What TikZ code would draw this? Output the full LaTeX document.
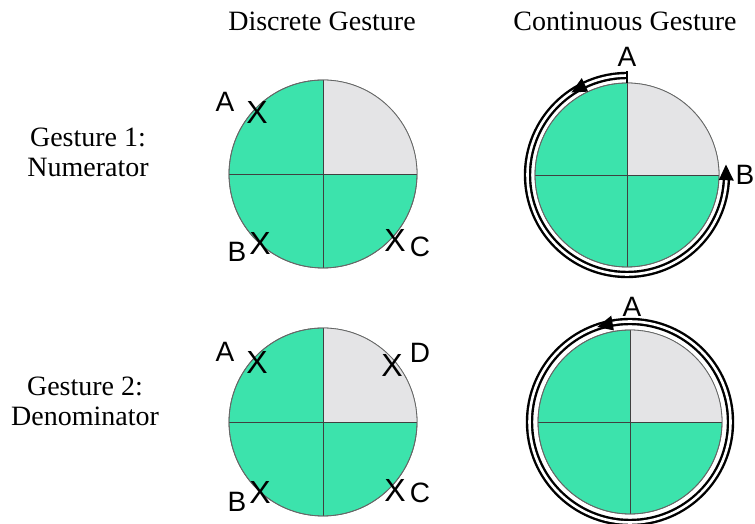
\documentclass[tikz,border=0pt]{standalone}
\usepackage{fontspec}
\setmainfont{Liberation Serif}
\newfontfamily\labelfont{Liberation Sans}
\usetikzlibrary{arrows.meta}
\definecolor{pieGreen}{RGB}{60,227,172}
\definecolor{pieGray}{RGB}{228,228,230}

\begin{document}
\begin{tikzpicture}[x=1pt,y=1pt,
  pie/.style={circle,draw=black!60,line width=0.8pt,fill=pieGreen,
              inner sep=0pt,outer sep=0pt},
  quarter/.style={fill=pieGray},
  split/.style={draw=black!75,line width=0.8pt},
  rim/.style={draw=black!60,line width=0.8pt},
  title/.style={font=\fontsize{28}{31}\selectfont,anchor=base},
  rowlabel/.style={font=\fontsize{28}{30}\selectfont,align=center},
  letter/.style={font=\labelfont\fontsize{28}{30}\selectfont,inner sep=0pt},
  cross/.style={font=\labelfont\fontsize{32}{34}\selectfont,inner sep=0pt},
  band/.style={line width=2.4pt,double=white,double distance=2.6pt},
  tip/.style={fill=black},
]
\useasboundingbox (0,0) rectangle (755,524);

% Column titles
\node[title] (discrete) at (322,493) {Discrete Gesture};
\node[title] (continuous) at (625,493) {Continuous Gesture};

% Row labels
\node[rowlabel] (row1) at (88,372) {Gesture 1:\\Numerator};
\node[rowlabel] (row2) at (85,123) {Gesture 2:\\Denominator};

% Top-left pie
\node[pie,minimum size=188pt] (tlc) at (323,350) {};
\fill[quarter] (tlc.center) -- (tlc.east) arc[start angle=0,end angle=90,radius=94pt] -- cycle;
\draw[split] (tlc.north) -- (tlc.south) (tlc.west) -- (tlc.east);
\draw[rim] (tlc.center) circle[radius=94pt];

% Bottom-left pie
\node[pie,minimum size=188pt] (blc) at (323,102) {};
\fill[quarter] (blc.center) -- (blc.east) arc[start angle=0,end angle=90,radius=94pt] -- cycle;
\draw[split] (blc.north) -- (blc.south) (blc.west) -- (blc.east);
\draw[rim] (blc.center) circle[radius=94pt];

% Top-right pie
\node[pie,minimum size=184pt] (trc) at (627,349) {};
\fill[quarter] (trc.center) -- (trc.east) arc[start angle=0,end angle=90,radius=92pt] -- cycle;
\draw[split] (trc.north) -- (trc.south) (trc.west) -- (trc.east);
\draw[rim] (trc.center) circle[radius=92pt];

% Bottom-right pie
\node[pie,minimum size=184pt] (brc) at (630,102) {};
\fill[quarter] (brc.center) -- (brc.east) arc[start angle=0,end angle=90,radius=92pt] -- cycle;
\draw[split] (brc.north) -- (brc.south) (brc.west) -- (brc.east);
\draw[rim] (brc.center) circle[radius=92pt];

% Discrete marks, gesture 1
\node[letter] (tlA) at (225,422) {A};
\node[cross] (tlXA) at (257,412) {X};
\node[letter] (tlB) at (237,272) {B};
\node[cross] (tlXB) at (260,281) {X};
\node[cross] (tlXC) at (395,284) {X};
\node[letter] (tlC) at (420,277) {C};

% Discrete marks, gesture 2
\node[letter] (blA) at (225,172) {A};
\node[cross] (blXA) at (257,162) {X};
\node[cross] (blXD) at (392,159) {X};
\node[letter] (blD) at (420,171) {D};
\node[letter] (blB) at (237,22) {B};
\node[cross] (blXB) at (260,32) {X};
\node[cross] (blXC) at (395,34) {X};
\node[letter] (blC) at (420,31) {C};

% Continuous gesture 1: A round to B
\draw[band] ([shift={(90:99.5)}]trc.center) arc[start angle=90,end angle=358,radius=99.5pt];
\draw[line width=2.4pt] (trc.north) -- ++(0,11.5);
\fill[tip] ([shift={(124:99.5)}]trc.center) -- ([shift={(115:92)}]trc.center)
  -- ([shift={(115:107)}]trc.center) -- cycle;
\fill[tip] ([shift={(6:99.5)}]trc.center) -- ([shift={(-3:92)}]trc.center)
  -- ([shift={(-3:107)}]trc.center) -- cycle;
\node[letter] (trA) at (627,467) {A};
\node[letter] (trB) at (745,349) {B};

% Continuous gesture 2: full turn from A
\draw[band] (brc.center) circle[radius=100.5pt];
\fill[tip] ([shift={(109:100.5)}]brc.center) -- ([shift={(100:93)}]brc.center)
  -- ([shift={(100:108)}]brc.center) -- cycle;
\node[letter] (brA) at (632,217) {A};

\end{tikzpicture}
\end{document}
